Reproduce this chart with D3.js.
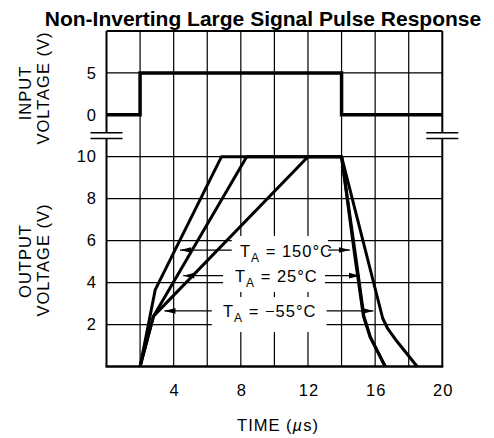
<!DOCTYPE html>
<html><head><meta charset="utf-8">
<script src="https://cdn.jsdelivr.net/npm/d3@7"></script>
<style>body{margin:0;background:#fff}svg{display:block}</style></head>
<body><svg id="c" width="494" height="438"></svg>
<script>
// ---- data ----
const titleText = "Non-Inverting Large Signal Pulse Response";
const timeTicks = [4, 8, 12, 16, 20];
const inputTicks = [0, 5];
const outputTicks = [2, 4, 6, 8, 10];
const inputT = [0, 2, 2, 14, 14, 20];
const inputV = [0, 0, 5, 5, 0, 0];
const t150 = [2, 2.9, 6.85, 14, 14.8, 15.3, 15.7, 16.6];
const v150 = [0, 3.65, 10, 10, 5.2, 2.4, 1.4, 0];
const t25 = [2, 2.8, 8.35, 14, 14.85, 15.33, 15.72, 16.6];
const v25 = [0, 2.4, 10, 10, 5.2, 2.4, 1.4, 0];
const tm55 = [2, 2.8, 12, 14, 16.45, 16.75, 17.2, 18.5];
const vm55 = [0, 2.4, 10, 10, 2.3, 1.8, 1.3, 0];
const seriesNames = ["150°C", "25°C", "−55°C"];

// ---- layout ----
const svg = d3.select("#c");
const x = d3.scaleLinear().domain([0, 20]).range([106.5, 442.3]);
const yIn = d3.scaleLinear().domain([0, 10]).range([114.8, 31]);
const yOut = d3.scaleLinear().domain([0, 10]).range([366.5, 156.7]);
const F = "'Liberation Sans', Arial, sans-serif";

// grid verticals
const g = svg.append("g").attr("stroke", "#000").attr("stroke-width", 1.2);
d3.range(2, 20, 2).forEach(t => {
  g.append("line").attr("x1", x(t)).attr("x2", x(t)).attr("y1", yIn(10)).attr("y2", yOut(0));
});
[5].forEach(v => g.append("line").attr("x1", x(0)).attr("x2", x(20)).attr("y1", yIn(v)).attr("y2", yIn(v)));
outputTicks.forEach(v => g.append("line").attr("x1", x(0)).attr("x2", x(20)).attr("y1", yOut(v)).attr("y2", yOut(v)));

// border with break
const b = svg.append("g").attr("stroke", "#000").attr("stroke-width", 2).attr("fill", "none");
const brk1 = 132.7, brk2 = 138.5;
b.append("line").attr("x1", x(0)).attr("x2", x(20)).attr("y1", yIn(10)).attr("y2", yIn(10));
b.append("line").attr("x1", x(0) - 1).attr("x2", x(20) + 1).attr("y1", yOut(0)).attr("y2", yOut(0)).attr("stroke-width", 2.5);
[x(0), x(20)].forEach(xx => {
  b.append("line").attr("x1", xx).attr("x2", xx).attr("y1", yIn(10)).attr("y2", brk1);
  b.append("line").attr("x1", xx).attr("x2", xx).attr("y1", brk2).attr("y2", yOut(0));
  [brk1, brk2].forEach(yy => b.append("line").attr("x1", xx - 16).attr("x2", xx + 16)
    .attr("y1", yy).attr("y2", yy).attr("stroke-width", 1.6));
});

// label boxes (white) covering grid
const labels = [
  {name: seriesNames[0], v: 5.55, box: [7.46, 13.19], tipL: 4.38, tipR: 14.5, tx: 240},
  {name: seriesNames[1], v: 4.33, box: [6.94, 13.01], tipL: 4.57, tipR: 15.1, tx: 235},
  {name: seriesNames[2], v: 2.65, box: [6.27, 13.11], tipL: 3.45, tipR: 15.9, tx: 223}
];
const boxY = [[236, 262], [262, 292], [297, 332]];
labels.forEach((l, i) => {
  svg.append("rect").attr("x", x(l.box[0])).attr("width", x(l.box[1]) - x(l.box[0]))
    .attr("y", boxY[i][0]).attr("height", boxY[i][1] - boxY[i][0]).attr("fill", "#fff");
});

// curves
const line = d3.line();
svg.append("path").attr("d", line(inputT.map((t, i) => [x(t), yIn(inputV[i])])))
  .attr("fill", "none").attr("stroke", "#000").attr("stroke-width", 3.5).attr("stroke-linejoin", "miter");
[[t150, v150], [t25, v25], [tm55, vm55]].forEach(([ts, vs]) => {
  svg.append("path").attr("d", line(ts.map((t, i) => [x(t), yOut(vs[i])])))
    .attr("fill", "none").attr("stroke", "#000").attr("stroke-width", 3).attr("stroke-linejoin", "round");
});

// arrows + labels
function arrow(x1, x2, y) {
  svg.append("line").attr("x1", x1).attr("x2", x2).attr("y1", y).attr("y2", y).attr("stroke", "#000").attr("stroke-width", 1.2);
  const d = x2 > x1 ? 1 : -1;
  svg.append("path").attr("d", `M${x2},${y}L${x2 - d * 11},${y - 2.8}L${x2 - d * 11},${y + 2.8}Z`).attr("fill", "#000");
}
labels.forEach(l => {
  const y = yOut(l.v);
  arrow(x(l.box[0]), x(l.tipL), y);
  arrow(x(l.box[1]), x(l.tipR), y);
  const t = svg.append("text").attr("x", l.tx).attr("y", y + 6.5).attr("font-family", F)
    .attr("font-size", 16.5).attr("letter-spacing", 1);
  t.append("tspan").text("T");
  t.append("tspan").attr("font-size", 12).attr("dy", 5).text("A");
  t.append("tspan").attr("dy", -5).text(" = " + l.name);
});

// tick labels
const txt = svg.append("g").attr("font-family", F).attr("font-size", 16.5).attr("letter-spacing", 1).attr("fill", "#000");
inputTicks.forEach(v => txt.append("text").attr("x", 97).attr("y", yIn(v)).attr("dy", "0.35em").attr("text-anchor", "end").text(v));
outputTicks.forEach(v => txt.append("text").attr("x", 97).attr("y", yOut(v)).attr("dy", "0.35em").attr("text-anchor", "end").text(v));
timeTicks.forEach(t => txt.append("text").attr("x", x(t) + 1).attr("y", 396).attr("text-anchor", "middle").text(t));

// axis titles
const xt = txt.append("text").attr("x", 278).attr("y", 431).attr("text-anchor", "middle");
xt.append("tspan").text("TIME (");
xt.append("tspan").attr("font-style", "italic").text("µ");
xt.append("tspan").text("s)");
[["INPUT", 25, 93], ["VOLTAGE (V)", 43, 88], ["OUTPUT", 25, 261], ["VOLTAGE (V)", 43, 260]].forEach(([s, xx, yy]) => {
  txt.append("text").attr("transform", `translate(${xx},${yy}) rotate(-90)`).attr("text-anchor", "middle")
    .attr("dy", "0.35em").text(s);
});

// title
svg.append("text").attr("x", 263).attr("y", 26).attr("text-anchor", "middle").attr("font-family", F)
  .attr("font-weight", "bold").attr("font-size", 21).text(titleText);
</script></body></html>
